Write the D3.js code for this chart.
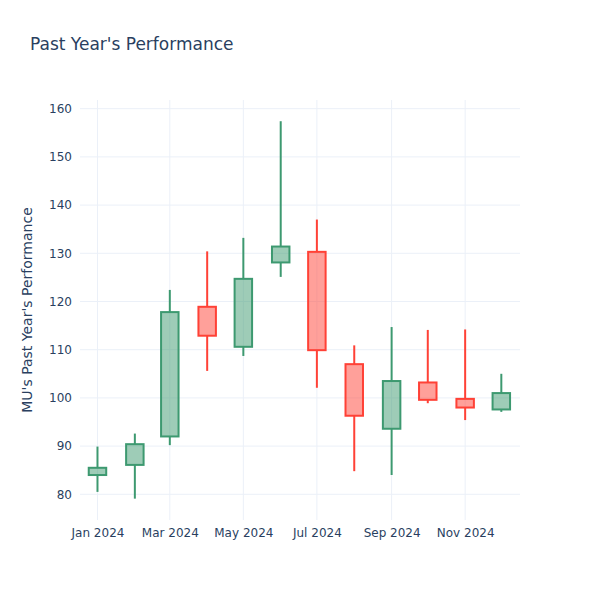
<!DOCTYPE html>
<html>
<head>
<meta charset="utf-8">
<script src="https://cdn.jsdelivr.net/npm/d3@7"></script>
<style>
body{margin:0;background:#fff;}
text{font-family:"DejaVu Sans",sans-serif;fill:#2a3f5f;}
</style>
</head>
<body>
<svg id="chart" width="600" height="600"></svg>
<script>
const dates = ["2024-01-01","2024-02-01","2024-03-01","2024-04-01","2024-05-01","2024-06-01","2024-07-01","2024-08-01","2024-09-01","2024-10-01","2024-11-01","2024-12-01"];
const open  = [84.0, 86.1, 92.0, 118.9, 110.6, 128.1, 130.3, 107.0, 93.6, 103.2, 99.8, 97.6];
const high  = [89.9, 92.6, 122.4, 130.4, 133.2, 157.4, 137.0, 110.9, 114.7, 114.1, 114.2, 105.0];
const low   = [80.5, 79.1, 90.2, 105.6, 108.7, 125.1, 102.1, 84.8, 84.0, 98.9, 95.4, 97.1];
const close = [85.5, 90.4, 117.8, 112.9, 124.7, 131.4, 109.9, 96.3, 103.5, 99.6, 98.0, 101.0];
const yTicks = [80, 90, 100, 110, 120, 130, 140, 150, 160];
const xTicks = ["2024-01-01","2024-03-01","2024-05-01","2024-07-01","2024-09-01","2024-11-01"];
const xTickLabels = ["Jan 2024","Mar 2024","May 2024","Jul 2024","Sep 2024","Nov 2024"];
const title = "Past Year's Performance";
const yTitle = "MU's Past Year's Performance";

const W = 600, H = 600, m = {l:80, r:80, t:100, b:80};
const parse = d3.utcParse("%Y-%m-%d");
const data = dates.map((d,i)=>({date:parse(d), o:open[i], h:high[i], l:low[i], c:close[i]}));

const svg = d3.select("#chart");
const x = d3.scaleUtc()
  .domain([new Date(Date.UTC(2023,11,17,12)), new Date(Date.UTC(2024,11,16,12))])
  .range([m.l, W - m.r]);
const y = d3.scaleLinear().domain([74.67, 161.8]).range([H - m.b, m.t]);

// grid
const g = svg.append("g");
g.selectAll(".hg").data(yTicks).enter().append("line")
  .attr("x1", m.l).attr("x2", W - m.r)
  .attr("y1", d=>y(d)).attr("y2", d=>y(d))
  .attr("stroke", "#ebf0f8").attr("stroke-width", 1);
g.selectAll(".vg").data(xTicks).enter().append("line")
  .attr("x1", d=>x(parse(d))).attr("x2", d=>x(parse(d)))
  .attr("y1", m.t).attr("y2", H - m.b)
  .attr("stroke", "#ebf0f8").attr("stroke-width", 1);

// axes labels
const yAxis = d3.axisLeft(y).tickValues(yTicks).tickSize(0).tickPadding(6);
const ya = svg.append("g").attr("transform", `translate(${m.l - 2},0)`).call(yAxis);
ya.select(".domain").remove();
ya.selectAll("text").style("font-size","12px").attr("fill","#2a3f5f").style("font-family","'DejaVu Sans',sans-serif");

const xAxis = d3.axisBottom(x).tickValues(xTicks.map(parse)).tickSize(0).tickPadding(6)
  .tickFormat((d,i)=>xTickLabels[i]);
const xa = svg.append("g").attr("transform", `translate(0,${H - m.b + 2})`).call(xAxis);
xa.select(".domain").remove();
xa.selectAll("text").style("font-size","12px").attr("fill","#2a3f5f").style("font-family","'DejaVu Sans',sans-serif");

// candles
const halfDays = 14.5 * 24 * 3600 * 1000 / 2;
const incLine = "#3D9970", decLine = "#FF4136";
const incFill = "rgba(61,153,112,0.5)", decFill = "rgba(255,65,54,0.5)";
const cg = svg.append("g");
data.forEach(d => {
  const inc = d.c >= d.o;
  const col = inc ? incLine : decLine;
  const cx = x(d.date);
  const top = Math.max(d.o, d.c), bot = Math.min(d.o, d.c);
  cg.append("line").attr("x1", cx).attr("x2", cx).attr("y1", y(d.h)).attr("y2", y(top))
    .attr("stroke", col).attr("stroke-width", 2);
  cg.append("line").attr("x1", cx).attr("x2", cx).attr("y1", y(bot)).attr("y2", y(d.l))
    .attr("stroke", col).attr("stroke-width", 2);
  const x0 = x(new Date(d.date.getTime() - halfDays));
  const x1 = x(new Date(d.date.getTime() + halfDays));
  cg.append("rect").attr("x", x0).attr("width", x1 - x0)
    .attr("y", y(top)).attr("height", Math.max(0.5, y(bot) - y(top)))
    .attr("fill", inc ? incFill : decFill).attr("stroke", col).attr("stroke-width", 2);
});

// titles
svg.append("text").attr("x", 30).attr("y", 50).text(title)
  .style("font-size","17px");
svg.append("text")
  .attr("transform", `translate(32,${(m.t + H - m.b)/2}) rotate(-90)`)
  .attr("text-anchor","middle").text(yTitle).style("font-size","14px");
</script>
</body>
</html>
